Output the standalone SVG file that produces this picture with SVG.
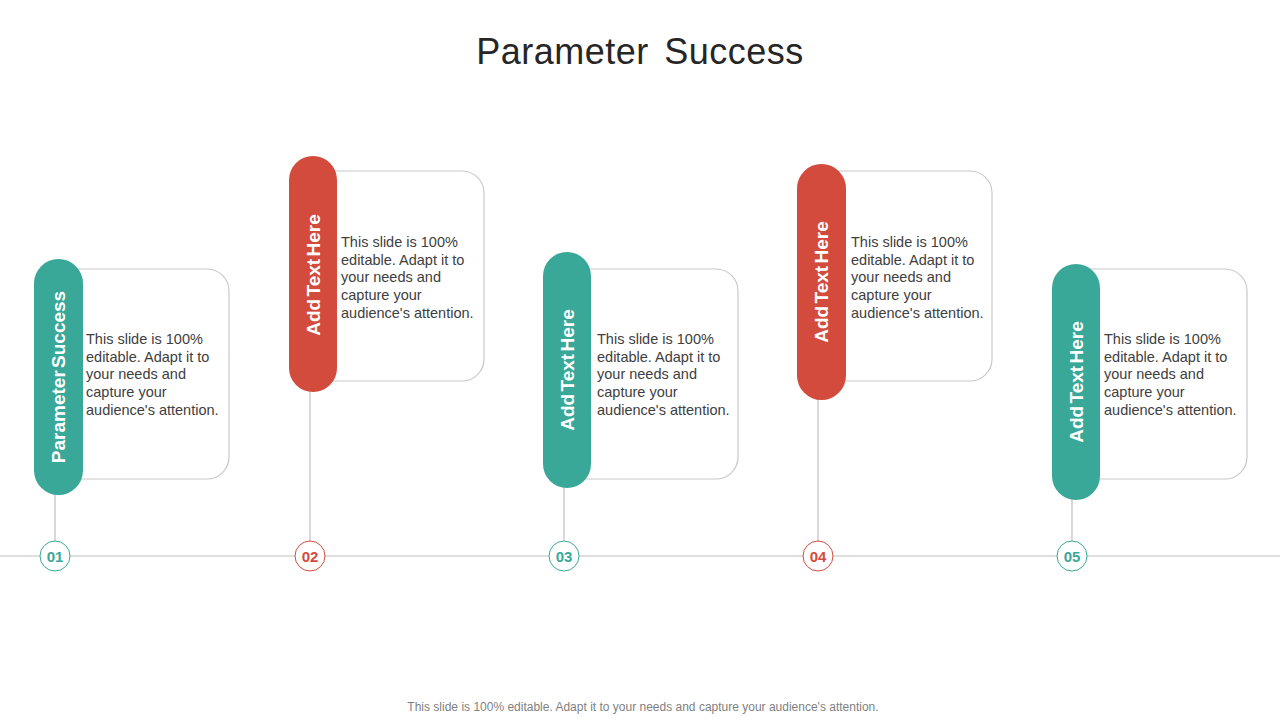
<svg xmlns="http://www.w3.org/2000/svg" width="1280" height="720" viewBox="0 0 1280 720">
<style>
.card{fill:#fff;stroke:#c8c8c8;stroke-width:1.2}
.teal{fill:#3aa898}
.red{fill:#d34b3d}
.ptxt{font-family:"Liberation Sans",Arial,sans-serif;font-weight:bold;font-size:19px;fill:#fff;text-anchor:middle;word-spacing:-3px}
.body{font-family:"Liberation Sans",Arial,sans-serif;font-size:14.5px;fill:#404040}
.num{font-family:"Liberation Sans",Arial,sans-serif;font-weight:bold;font-size:15px;text-anchor:middle}
.conn{stroke:#bfbfbf;stroke-width:1.2;fill:none}
</style>
<rect width="1280" height="720" fill="#fff"/>
<text x="640" y="64" font-family="Liberation Sans,Arial,sans-serif" font-size="36" fill="#262626" text-anchor="middle" word-spacing="5" letter-spacing="0.5">Parameter Success</text>
<g id="connectors">
<line class="conn" x1="0" y1="556" x2="1280" y2="556"/>
<line class="conn" x1="55" y1="494" x2="55" y2="541"/>
<line class="conn" x1="310" y1="391" x2="310" y2="541"/>
<line class="conn" x1="564" y1="487" x2="564" y2="541"/>
<line class="conn" x1="818" y1="399" x2="818" y2="541"/>
<line class="conn" x1="1072" y1="499" x2="1072" y2="541"/>
</g>
<g id="node1">
<rect class="card" x="50" y="269" width="179" height="210" rx="22"/>
<rect class="teal" x="34" y="259" width="49" height="236" rx="24.5"/>
<text class="ptxt" transform="translate(65,377) rotate(-90)">Parameter Success</text>
<text class="body"><tspan x="86" y="344">This slide is 100%</tspan><tspan x="86" y="362">editable. Adapt it to</tspan><tspan x="86" y="379">your needs and</tspan><tspan x="86" y="397">capture your</tspan><tspan x="86" y="415">audience's attention.</tspan></text>
<circle cx="55" cy="556" r="15" fill="#fff" stroke="#3aa898" stroke-width="1"/>
<text class="num" x="55" y="561.5" fill="#3aa898">01</text>
</g>
<g id="node2">
<rect class="card" x="305" y="171" width="179" height="210" rx="22"/>
<rect class="red" x="289" y="156" width="48" height="236" rx="24"/>
<text class="ptxt" transform="translate(319.5,275) rotate(-90)">Add Text Here</text>
<text class="body"><tspan x="341" y="247">This slide is 100%</tspan><tspan x="341" y="265">editable. Adapt it to</tspan><tspan x="341" y="282">your needs and</tspan><tspan x="341" y="300">capture your</tspan><tspan x="341" y="318">audience's attention.</tspan></text>
<circle cx="310" cy="556" r="15" fill="#fff" stroke="#d34b3d" stroke-width="1"/>
<text class="num" x="310" y="561.5" fill="#d34b3d">02</text>
</g>
<g id="node3">
<rect class="card" x="559" y="269" width="179" height="210" rx="22"/>
<rect class="teal" x="543" y="252" width="48" height="236" rx="24"/>
<text class="ptxt" transform="translate(573.5,370) rotate(-90)">Add Text Here</text>
<text class="body"><tspan x="597" y="344">This slide is 100%</tspan><tspan x="597" y="362">editable. Adapt it to</tspan><tspan x="597" y="379">your needs and</tspan><tspan x="597" y="397">capture your</tspan><tspan x="597" y="415">audience's attention.</tspan></text>
<circle cx="564" cy="556" r="15" fill="#fff" stroke="#3aa898" stroke-width="1"/>
<text class="num" x="564" y="561.5" fill="#3aa898">03</text>
</g>
<g id="node4">
<rect class="card" x="813" y="171" width="179" height="210" rx="22"/>
<rect class="red" x="797" y="164" width="49" height="236" rx="24.5"/>
<text class="ptxt" transform="translate(828,282) rotate(-90)">Add Text Here</text>
<text class="body"><tspan x="851" y="247">This slide is 100%</tspan><tspan x="851" y="265">editable. Adapt it to</tspan><tspan x="851" y="282">your needs and</tspan><tspan x="851" y="300">capture your</tspan><tspan x="851" y="318">audience's attention.</tspan></text>
<circle cx="818" cy="556" r="15" fill="#fff" stroke="#d34b3d" stroke-width="1"/>
<text class="num" x="818" y="561.5" fill="#d34b3d">04</text>
</g>
<g id="node5">
<rect class="card" x="1068" y="269" width="179" height="210" rx="22"/>
<rect class="teal" x="1052" y="264" width="48" height="236" rx="24"/>
<text class="ptxt" transform="translate(1082.5,382) rotate(-90)">Add Text Here</text>
<text class="body"><tspan x="1104" y="344">This slide is 100%</tspan><tspan x="1104" y="362">editable. Adapt it to</tspan><tspan x="1104" y="379">your needs and</tspan><tspan x="1104" y="397">capture your</tspan><tspan x="1104" y="415">audience's attention.</tspan></text>
<circle cx="1072" cy="556" r="15" fill="#fff" stroke="#3aa898" stroke-width="1"/>
<text class="num" x="1072" y="561.5" fill="#3aa898">05</text>
</g>
<text x="643" y="711" font-family="Liberation Sans,Arial,sans-serif" font-size="12" fill="#7f7f7f" text-anchor="middle">This slide is 100% editable. Adapt it to your needs and capture your audience's attention.</text>
</svg>
